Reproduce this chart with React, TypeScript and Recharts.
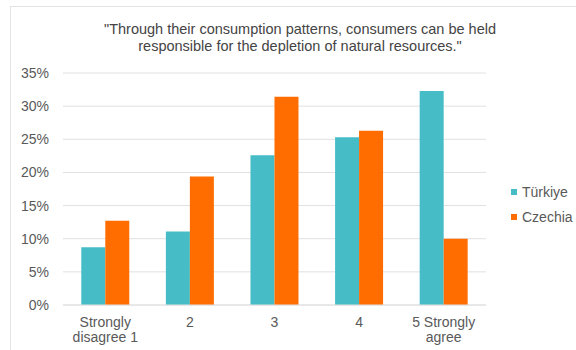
import { BarChart, Bar, XAxis, YAxis, CartesianGrid, Text } from "recharts";

const categories = ["Strongly disagree 1", "2", "3", "4", "5 Strongly agree"];
const turkiye = [8.7, 11.1, 22.6, 25.3, 32.3];
const czechia = [12.7, 19.4, 31.4, 26.3, 10.0];
const yTicks = [0, 5, 10, 15, 20, 25, 30, 35];
const titleLines = [
  "\"Through their consumption patterns, consumers can be held",
  "responsible for the depletion of natural resources.\"",
];

const series = [
  { key: "turkiye", name: "Türkiye", color: "#46BDC6" },
  { key: "czechia", name: "Czechia", color: "#FF6D01" },
];
const font = "'Liberation Sans', Arial, sans-serif";

const data = categories.map((name, i) => ({
  name,
  turkiye: turkiye[i],
  czechia: czechia[i],
}));

const XTick = ({ x, y, payload }: any) => (
  <Text
    x={x}
    y={y + 10}
    width={82}
    textAnchor="middle"
    verticalAnchor="start"
    lineHeight={15}
    fontSize={14}
    fontFamily={font}
    fill="#595959"
  >
    {payload.value}
  </Text>
);

export default function App() {
  return (
    <div style={{ position: "absolute", left: 0, top: 0, width: 576, height: 350, overflow: "hidden", background: "#fff" }}>
      <div style={{ position: "absolute", left: 10, top: 6, width: 700, height: 500, border: "1px solid #e3e3e3" }} />
      <div
        style={{
          position: "absolute",
          left: 100,
          top: 21,
          width: 400,
          textAlign: "center",
          fontFamily: font,
          fontSize: 14.5,
          lineHeight: "17px",
          color: "#444",
        }}
      >
        {titleLines.map((l) => (
          <div key={l}>{l}</div>
        ))}
      </div>
      <BarChart
        width={576}
        height={350}
        data={data}
        margin={{ top: 73, right: 90, bottom: 0, left: 8 }}
        barCategoryGap="21.6%"
        barGap={0}
        style={{ position: "absolute", left: 0, top: 0 }}
      >
        <CartesianGrid vertical={false} stroke="#e0e0e0" />
        <XAxis
          dataKey="name"
          height={45}
          axisLine={{ stroke: "#e0e0e0" }}
          tickLine={false}
          tickSize={0}
          tick={<XTick />}
          interval={0}
        />
        <YAxis
          width={55}
          domain={[0, 35]}
          ticks={yTicks}
          axisLine={false}
          tickLine={false}
          tickSize={0}
          tickMargin={14}
          tickFormatter={(v) => `${v}%`}
          tick={{ fontSize: 14, fontFamily: font, fill: "#595959" }}
        />
        {series.map((s) => (
          <Bar key={s.key} dataKey={s.key} name={s.name} fill={s.color} isAnimationActive={false} />
        ))}
      </BarChart>
      <div style={{ position: "absolute", left: 511, top: 180, fontFamily: font, fontSize: 14, color: "#595959" }}>
        {series.map((s) => (
          <div key={s.key} style={{ display: "flex", alignItems: "center", height: 24.6 }}>
            <span style={{ width: 6, height: 6, background: s.color, marginRight: 5, display: "inline-block" }} />
            {s.name}
          </div>
        ))}
      </div>
    </div>
  );
}
